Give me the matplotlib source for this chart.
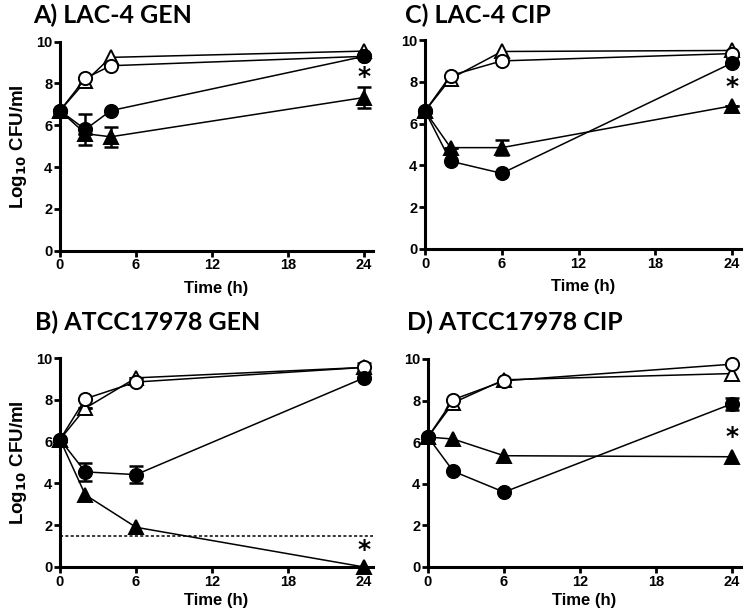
import matplotlib
matplotlib.use("Agg")
import matplotlib.pyplot as plt

plt.rcParams['font.family'] = ['Liberation Sans', 'DejaVu Sans']
plt.rcParams['font.weight'] = 'bold'
plt.rcParams['mathtext.default'] = 'bf'

# sampling times (h)
times_a = [0, 2, 4, 24]
times_bcd = [0, 2, 6, 24]

# A) LAC-4 GEN
a_open_tri = [6.7, 8.1, 9.25, 9.55]
a_open_circ = [6.7, 8.25, 8.85, 9.3]
a_fill_circ = [6.7, 5.8, 6.7, 9.3]
a_fill_circ_err = [0, 0.75, 0, 0]
a_fill_tri = [6.7, 5.6, 5.45, 7.33]
a_fill_tri_err = [0, 0, 0.47, 0.48]

# C) LAC-4 CIP
c_open_tri = [6.6, 8.15, 9.45, 9.5]
c_open_circ = [6.6, 8.3, 9.0, 9.35]
c_fill_circ = [6.6, 4.2, 3.62, 8.9]
c_fill_circ_err = [0, 0, 0, 0]
c_fill_tri = [6.6, 4.85, 4.85, 6.85]
c_fill_tri_err = [0, 0, 0.35, 0]

# B) ATCC17978 GEN
b_open_tri = [6.1, 7.6, 9.05, 9.55]
b_open_tri_err = [0, 0, 0, 0.2]
b_open_circ = [6.1, 8.05, 8.85, 9.55]
b_fill_circ = [6.1, 4.55, 4.42, 9.05]
b_fill_circ_err = [0, 0.43, 0.4, 0]
b_fill_tri = [6.1, 3.45, 1.9, 0.0]
b_fill_tri_err = [0, 0, 0, 0]
b_limit = 1.5

# D) ATCC17978 CIP
d_open_tri = [6.25, 7.9, 9.0, 9.3]
d_open_circ = [6.25, 8.05, 8.95, 9.75]
d_fill_circ = [6.25, 4.6, 3.6, 7.85]
d_fill_circ_err = [0, 0, 0, 0.28]
d_fill_tri = [6.25, 6.15, 5.35, 5.3]
d_fill_tri_err = [0, 0, 0, 0]

titles = ['A) LAC-4 GEN', 'C) LAC-4 CIP', 'B) ATCC17978 GEN', 'D) ATCC17978 CIP']
star_y = [8.3, 7.75, 0.8, 6.25]
xticks = [0, 6, 12, 18, 24]
yticks = [0, 2, 4, 6, 8, 10]

W, H = 750, 615
fig = plt.figure(figsize=(7.5, 6.15), dpi=100)


def make_ax(left, right, y0, y10):
    # pixel box -> figure fraction
    return fig.add_axes([left / W, 1 - y0 / H, (right - left) / W, (y0 - y10) / H])


def series(ax, t, y, marker, fill, err=None, z=3):
    face = 'black' if fill else 'white'
    if err is not None and any(e > 0 for e in err):
        ax.errorbar(t, y, yerr=err, fmt='none', ecolor='black', elinewidth=1.8,
                    capsize=5, capthick=1.8, zorder=z, clip_on=False)
    ax.plot(t, y, color='black', lw=1.1, marker=marker, ms=9.5,
            mfc=face, mec='black', mew=1.4, zorder=z + 0.5, clip_on=False)


def style(ax, ylabel, lpad):
    ax.set_xlim(0, 24.7)
    ax.set_ylim(0, 10)
    ax.set_xticks(xticks)
    ax.set_yticks(yticks)
    for s in ['top', 'right']:
        ax.spines[s].set_visible(False)
    for s in ['left', 'bottom']:
        ax.spines[s].set_linewidth(2.2)
    ax.tick_params(direction='out', length=4, width=2, labelsize=10.5, pad=1.5)
    for lab in ax.get_xticklabels() + ax.get_yticklabels():
        lab.set_fontweight('bold')
    ax.set_xlabel('Time (h)', fontsize=12, fontweight='bold', labelpad=lpad)
    if ylabel:
        ax.set_ylabel(r'Log$_{10}$ CFU/ml', fontsize=13.5, fontweight='bold', labelpad=5)


def star(ax, y):
    ax.text(24, y, '*', fontsize=18, ha='center', va='center', family='DejaVu Sans')


def title(x, y, s):
    fig.text(x / W, 1 - y / H, s, family=['Lato', 'DejaVu Sans'], fontsize=18,
             fontweight='bold', ha='left', va='baseline')


ax_a = make_ax(60, 373, 250.7, 41.7)
series(ax_a, times_a, a_open_tri, '^', False)
series(ax_a, times_a, a_open_circ, 'o', False)
series(ax_a, times_a, a_fill_tri, '^', True, a_fill_tri_err)
series(ax_a, times_a, a_fill_circ, 'o', True, a_fill_circ_err)
style(ax_a, True, 6)
star(ax_a, star_y[0])
title(33, 23, titles[0])

ax_c = make_ax(425, 741, 249, 40)
series(ax_c, times_bcd, c_open_tri, '^', False)
series(ax_c, times_bcd, c_open_circ, 'o', False)
series(ax_c, times_bcd, c_fill_tri, '^', True, c_fill_tri_err)
series(ax_c, times_bcd, c_fill_circ, 'o', True, c_fill_circ_err)
style(ax_c, False, 6)
star(ax_c, star_y[1])
title(405, 23, titles[1])

ax_b = make_ax(60, 373, 567, 358)
ax_b.axhline(b_limit, color='black', lw=1.1, ls=(0, (2, 1.5)), zorder=2)
series(ax_b, times_bcd, b_open_tri, '^', False, b_open_tri_err)
series(ax_b, times_bcd, b_open_circ, 'o', False)
series(ax_b, times_bcd, b_fill_tri, '^', True, b_fill_tri_err)
series(ax_b, times_bcd, b_fill_circ, 'o', True, b_fill_circ_err)
style(ax_b, True, 3)
star(ax_b, star_y[2])
title(35, 330, titles[2])

ax_d = make_ax(428, 741, 567, 359)
series(ax_d, times_bcd, d_open_tri, '^', False)
series(ax_d, times_bcd, d_open_circ, 'o', False)
series(ax_d, times_bcd, d_fill_tri, '^', True, d_fill_tri_err)
series(ax_d, times_bcd, d_fill_circ, 'o', True, d_fill_circ_err)
style(ax_d, False, 3)
star(ax_d, star_y[3])
title(407, 330, titles[3])

fig.savefig('out.png', dpi=100)
